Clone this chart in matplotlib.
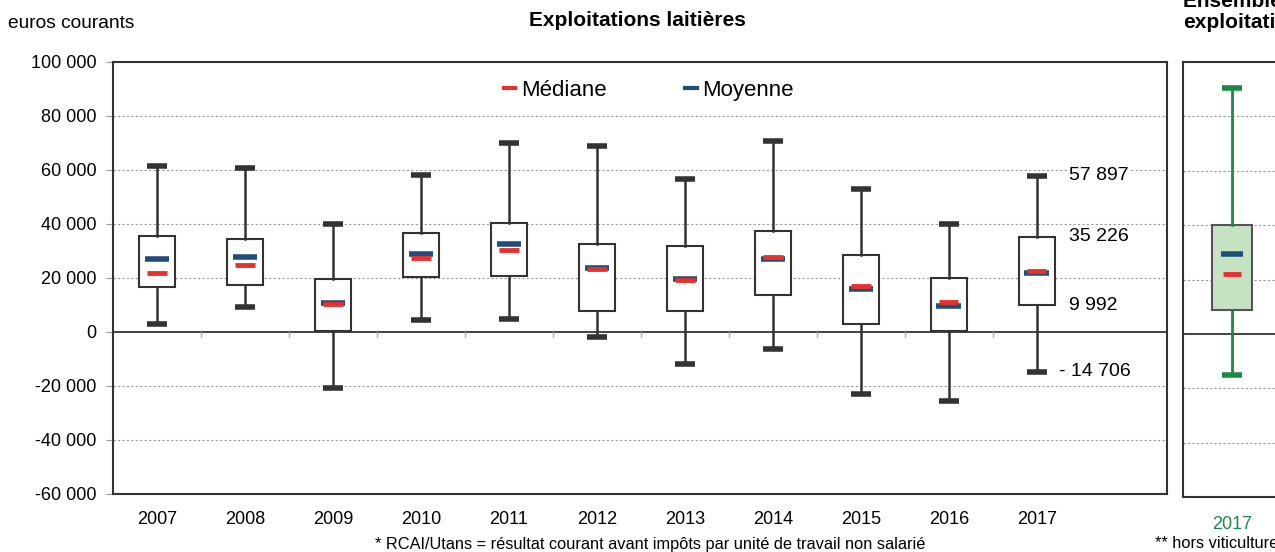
import numpy as np
import matplotlib.pyplot as plt
from matplotlib.lines import Line2D

plt.rcParams['font.family'] = ['Liberation Sans', 'DejaVu Sans']

# RCAI/Utans, exploitations laitieres (euros courants)
years = ['2007', '2008', '2009', '2010', '2011', '2012', '2013', '2014', '2015', '2016', '2017']
whislo = [2800, 9300, -20700, 4400, 4800, -1900, -11900, -6300, -23000, -25600, -14706]
q1 = [16700, 17500, 400, 20400, 20700, 7800, 7800, 13700, 3000, 500, 9992]
median = [22000, 24900, 10500, 27400, 30400, 23300, 19300, 27800, 17000, 11000, 22700]
mean = [27000, 27600, 10700, 28900, 32600, 23700, 19600, 27000, 15900, 9500, 21900]
q3 = [35600, 34400, 19600, 36700, 40400, 32600, 31900, 37400, 28500, 20100, 35226]
whishi = [61500, 60600, 39900, 58100, 70000, 68900, 56700, 70700, 53000, 40000, 57897]

# ensemble des exploitations, 2017
all_year = '2017'
all_stats = dict(whislo=-15200, q1=8600, med=21900, mean=29400, q3=39900, whishi=90300)

RED = '#e8312f'
BLUE = '#1f4e79'
GREEN = '#1a8a44'
DARK = '#333333'

def fmt(v):
    s = f"{abs(v):,.0f}".replace(',', ' ')
    return ('- ' + s) if v < 0 else s

fig = plt.figure(figsize=(12.75, 5.52), dpi=100)
ax = fig.add_axes([113/1275, 1 - 494/552, 1054/1275, 432/552])

pos = np.arange(len(years))
stats = [dict(whislo=a, q1=b, med=c, q3=d, whishi=e)
         for a, b, c, d, e in zip(whislo, q1, median, q3, whishi)]
ax.bxp(stats, positions=pos, widths=0.41, capwidths=0.23, showfliers=False,
       patch_artist=True,
       boxprops=dict(facecolor='white', edgecolor=DARK, linewidth=1.5),
       whiskerprops=dict(color=DARK, linewidth=1.8),
       capprops=dict(color=DARK, linewidth=4, solid_capstyle='butt'),
       medianprops=dict(linewidth=0), zorder=3)
ax.hlines(mean, pos - 0.14, pos + 0.14, color=BLUE, linewidth=4, zorder=4)
ax.hlines(median, pos - 0.11, pos + 0.11, color=RED, linewidth=3.5, zorder=5)

ax.set_xlim(-0.5, 11.48)
ax.set_ylim(-60000, 100000)
ax.set_yticks(np.arange(-60000, 100001, 20000))
ax.set_yticklabels([fmt(v).replace('- ', '-') for v in ax.get_yticks()], fontsize=13)
ax.set_xticks(pos)
ax.set_xticklabels(years, fontsize=13)
ax.tick_params(axis='x', length=0, pad=12)
ax.tick_params(axis='y', length=5, color='#999999', pad=7)
for v in np.arange(-40000, 100000, 20000):
    if v != 0:
        ax.axhline(v, color='#999999', linewidth=0.8, linestyle=(0, (2, 2)), zorder=1)
ax.axhline(0, color='#222222', linewidth=1.2, zorder=2)
for b in pos[:-1] + 0.5:
    ax.plot([b, b], [0, -1800], color='#aaaaaa', linewidth=1, zorder=2)
for s in ax.spines.values():
    s.set_color('#333333')
    s.set_linewidth(1.5)

# valeurs 2017
for v in [whishi[-1], q3[-1], q1[-1], whislo[-1]]:
    ax.annotate(fmt(v), (pos[-1], v), xytext=(23 if v > 0 else 16, 0),
                textcoords='offset points', va='center', ha='left', fontsize=14,
                bbox=dict(facecolor='white', edgecolor='none', pad=1), zorder=6)

handles = [Line2D([], [], color=RED, linewidth=3),
           Line2D([], [], color=BLUE, linewidth=3)]
ax.legend(handles, ['Médiane', 'Moyenne'], loc='center', bbox_to_anchor=(0.5085, 0.935),
          ncol=2, frameon=False, fontsize=16, handlelength=0.5, handletextpad=0.25,
          columnspacing=3.55)

fig.text(637/1275, 1 - 21/552, 'Exploitations laitières', ha='center', va='center',
         fontsize=15, fontweight='bold')
fig.text(8/1275, 1 - 24/552, 'euros courants', ha='left', va='center', fontsize=13.8)
fig.text(650/1275, 1 - 544/552,
         '* RCAI/Utans = résultat courant avant impôts par unité de travail non salarié',
         ha='center', va='center', fontsize=11.8)

# panneau ensemble des exploitations
ax2 = fig.add_axes([1183/1275, 1 - 497/552, 130/1275, 435/552])
ax2.bxp([dict(whislo=all_stats['whislo'], q1=all_stats['q1'], med=all_stats['med'],
              q3=all_stats['q3'], whishi=all_stats['whishi'])],
        positions=[0], widths=0.40, capwidths=0.2, showfliers=False, patch_artist=True,
        boxprops=dict(facecolor='#c5e3c3', edgecolor='#555555', linewidth=1.5),
        whiskerprops=dict(color=GREEN, linewidth=2),
        capprops=dict(color=GREEN, linewidth=4, solid_capstyle='butt'),
        medianprops=dict(linewidth=0), zorder=3)
ax2.hlines([all_stats['mean']], -0.11, 0.11, color=BLUE, linewidth=4, zorder=4)
ax2.hlines([all_stats['med']], -0.09, 0.09, color=RED, linewidth=3.5, zorder=5)
ax2.set_xlim(-0.49, 0.81)
ax2.set_ylim(-60000, 100000)
for v in np.arange(-40000, 100000, 20000):
    if v != 0:
        ax2.axhline(v, color='#999999', linewidth=0.8, linestyle=(0, (2, 2)), zorder=1)
ax2.axhline(0, color='#222222', linewidth=1.2, zorder=2)
ax2.set_yticks([])
ax2.set_xticks([0])
ax2.set_xticklabels([all_year], fontsize=13, color=GREEN)
ax2.tick_params(axis='x', length=0, pad=14)
for s in ax2.spines.values():
    s.set_color('#333333')
    s.set_linewidth(1.5)
fig.text(1183/1275, 1 - 32/552, 'Ensemble des\nexploitations**', ha='left', va='bottom',
         fontsize=15, fontweight='bold', linespacing=1.15)
fig.text(1155/1275, 1 - 544/552, '** hors viticulture', ha='left', va='center',
         fontsize=11.8)

fig.savefig('out.png', dpi=100)
